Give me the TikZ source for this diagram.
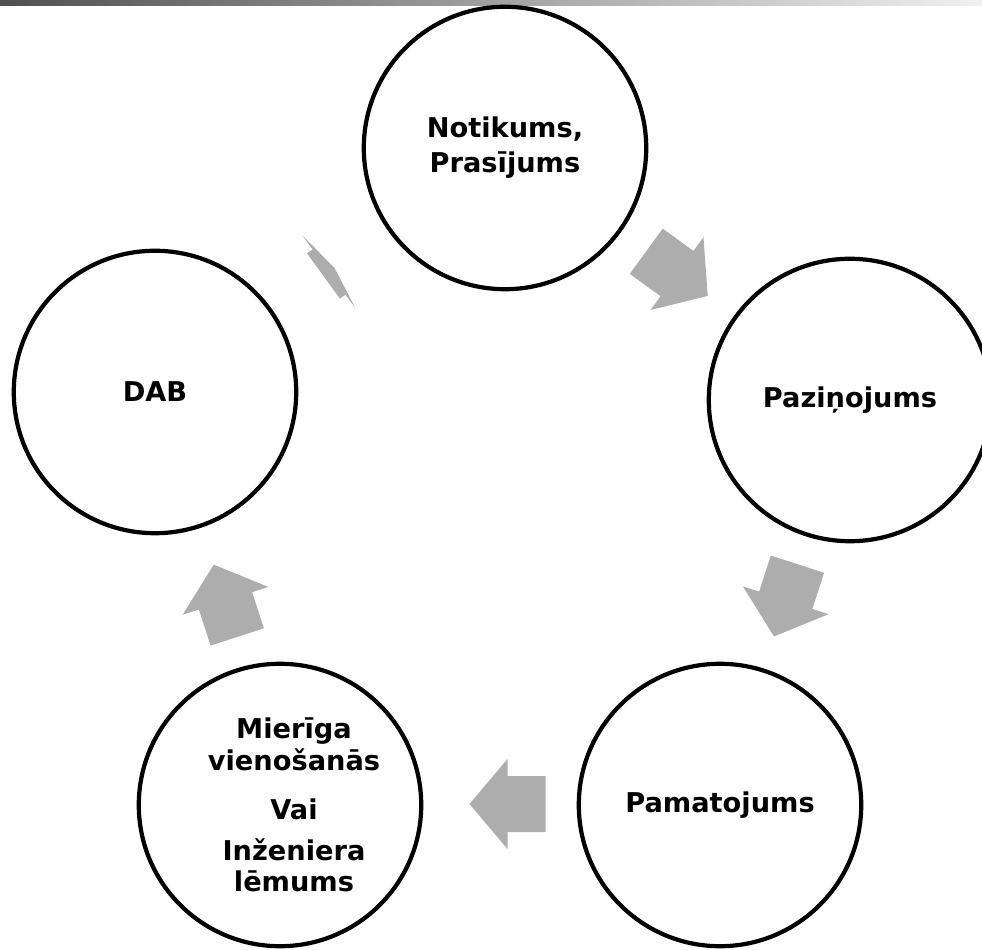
\documentclass[tikz,border=0pt]{standalone}
\usepackage{fontspec}
\setmainfont{DejaVu Sans}
\definecolor{arrowgray}{RGB}{173,173,173}
\definecolor{bardark}{RGB}{80,80,80}
\definecolor{barlight}{RGB}{240,240,240}
\tikzset{
every picture/.style={line width=2.4pt}
}
\tikzset{
  stage/.style={draw, circle, minimum size=5.65cm, inner sep=0pt, align=center,
    font=\bfseries\fontsize{15.5pt}{18pt}\selectfont},
  stagetext/.style={align=center, font=\bfseries\fontsize{15.5pt}{18pt}\selectfont},
  flowarrow/.pic={
    \fill[arrowgray] (-38,-28) -- (0,-28) -- (0,-45) -- (38,0) -- (0,45) -- (0,28) -- (-38,28) -- cycle;
  }
}

\begin{document}
\begin{tikzpicture}[x=0.02cm, y=0.02cm]
    \useasboundingbox (0,0) rectangle (982,949);
    \clip (0,0) rectangle (982,949);
    \shade[left color=bardark, right color=barlight] (0,943) rectangle (982,949);

    \node[stage] (notikums) at (505,801) {Notikums,\\[2pt] Prasījums};
    \node[stage] (pazinojums) at (850,549) {Paziņojums};
    \node[stage] (pamatojums) at (720,144) {Pamatojums};
    \node[stage] (vienosanas) at (280,144) {};
    \node[stagetext] (vienosanastxt) at (294,144) {Mierīga\\ vienošanās\\[10pt] Vai\\[5pt] Inženiera\\ lēmums};
    \node[stage] (dab) at (155,557) {DAB};

    \pic[rotate=-36] at (677,675.4) {flowarrow};
    \pic[rotate=-108] at (785.7,348.7) {flowarrow};
    \pic[rotate=180] at (507.5,145) {flowarrow};
    \pic[rotate=108] at (225.5,348.2) {flowarrow};
    \pic[rotate=36, xscale=0.18] at (329,677) {flowarrow};
\end{tikzpicture}
\end{document}
